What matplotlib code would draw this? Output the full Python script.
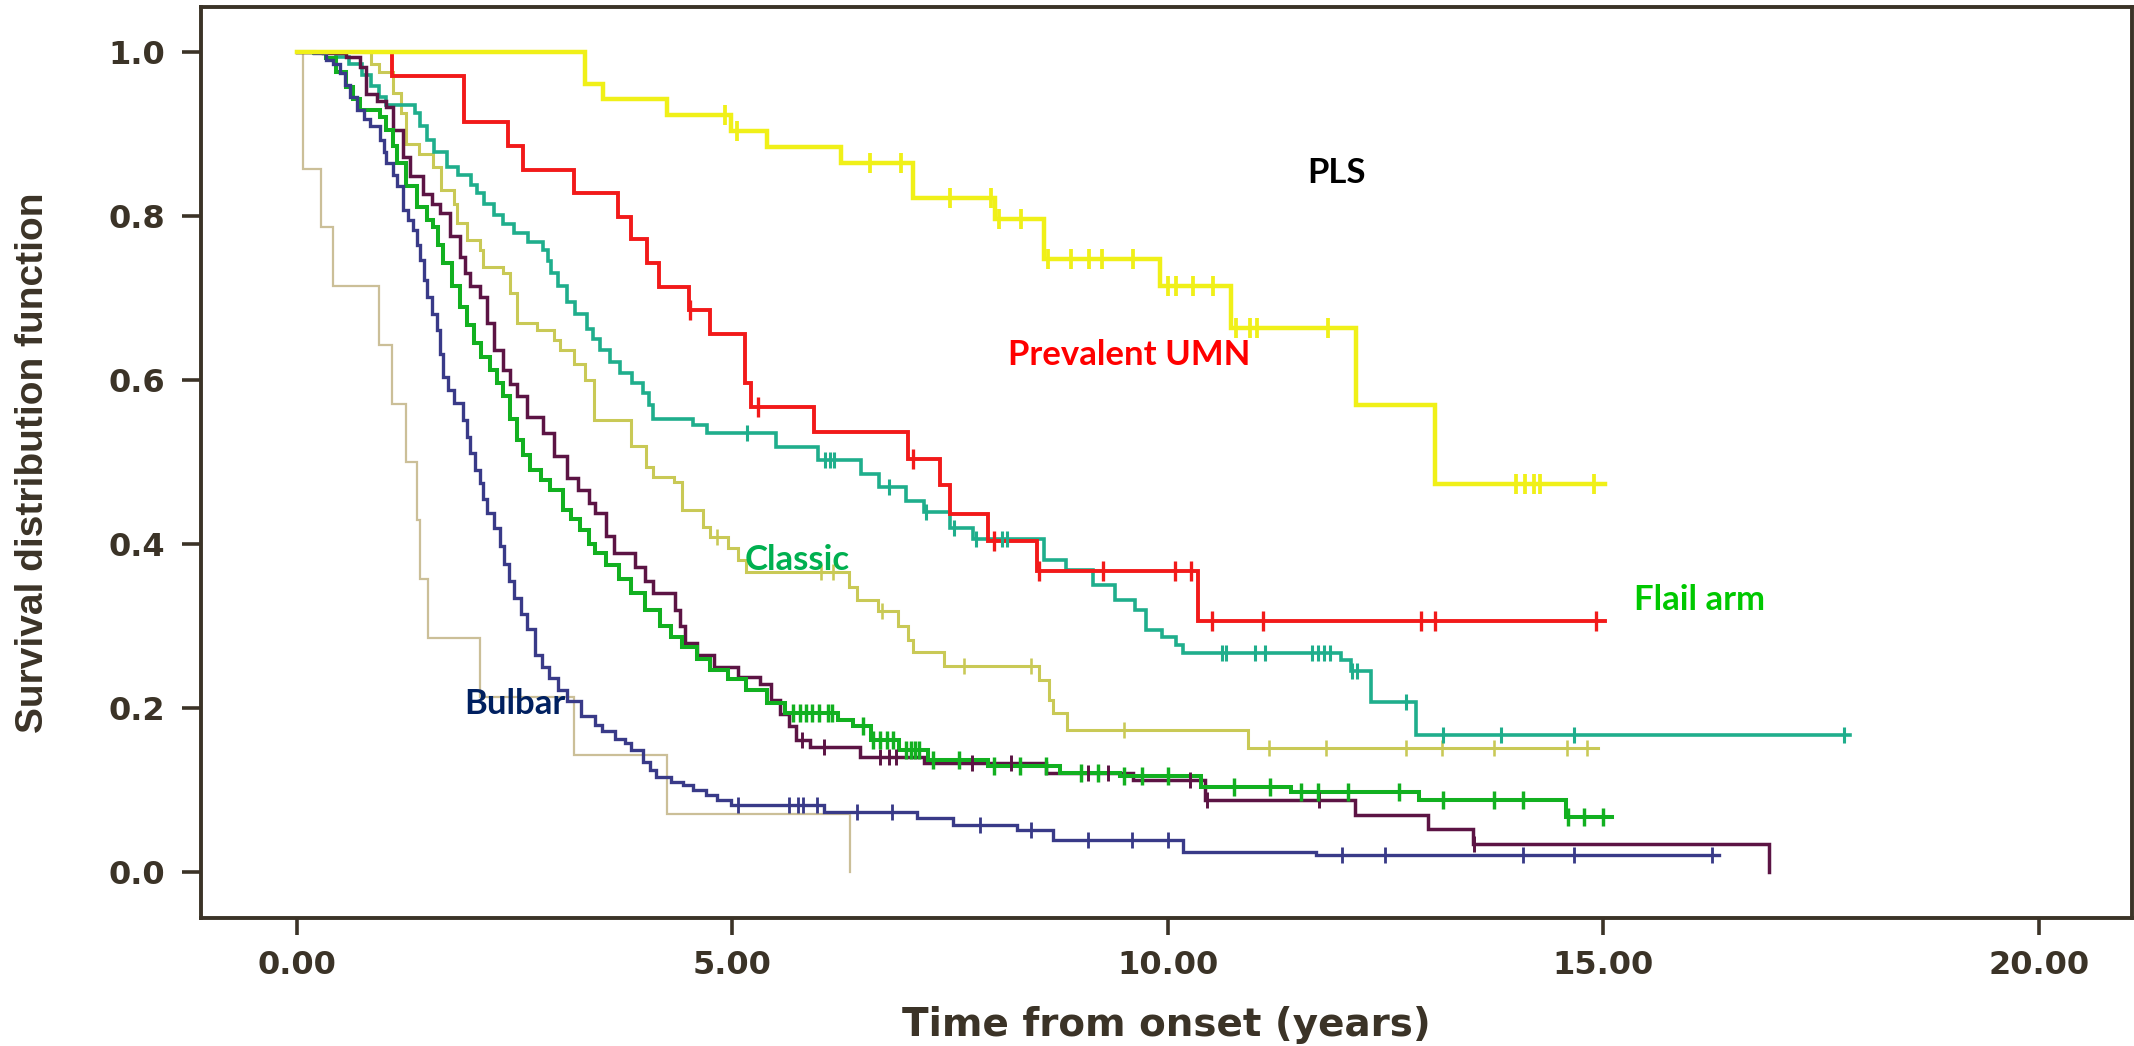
"""
plot.py - Kaplan-Meier survival curves by ALS phenotype (time from onset).
Saves out.png (2134x1046).
"""

import numpy as np
import matplotlib
matplotlib.use("Agg")
import matplotlib.pyplot as plt
from matplotlib.ticker import FixedLocator, FormatStrFormatter

OUT = "out.png"

# ─────────────────────────────────────────────────────────────────────────────
# Data: event times (years), survival after each event,
# last follow-up time and censoring times
# ─────────────────────────────────────────────────────────────────────────────
pls_t = [3.31, 3.52, 4.25, 4.99, 5.40, 6.25, 7.07, 8.02, 8.58, 9.91, 10.73,
         12.16, 13.07]
pls_s = [0.961, 0.943, 0.923, 0.903, 0.884, 0.864, 0.822, 0.796, 0.747, 0.714,
         0.663, 0.569, 0.473]
pls_end = 15.02
pls_cens = [4.92, 5.05, 6.58, 6.94, 7.50, 7.97, 8.06, 8.32, 8.62, 8.89, 9.10,
            9.25, 9.60, 10.00, 10.10, 10.29, 10.52, 10.78, 10.95, 11.02, 11.84,
            14.00, 14.10, 14.20, 14.27, 14.89]

umn_t = [1.09, 1.92, 2.43, 2.60, 3.18, 3.69, 3.84, 4.02, 4.16, 4.50, 4.75,
         5.15, 5.22, 5.94, 7.02, 7.38, 7.50, 7.94, 8.50, 10.35]
umn_s = [0.971, 0.914, 0.885, 0.856, 0.828, 0.799, 0.772, 0.742, 0.713, 0.685,
         0.656, 0.596, 0.567, 0.537, 0.504, 0.472, 0.437, 0.404, 0.367, 0.306]
umn_end = 15.02
umn_cens = [4.52, 5.30, 7.07, 8.00, 8.52, 9.26, 10.08, 10.27, 10.51, 11.09,
            12.91, 13.07, 14.92]

teal_t = [0.45, 0.60, 0.75, 0.85, 0.95, 1.03, 1.36, 1.42, 1.49, 1.58, 1.72,
          1.85, 2.00, 2.07, 2.15, 2.26, 2.37, 2.49, 2.65, 2.83, 2.88, 2.92,
          3.00, 3.10, 3.20, 3.33, 3.40, 3.48, 3.60, 3.71, 3.85, 3.98, 4.04,
          4.09, 4.55, 4.71, 5.50, 5.99, 6.48, 6.68, 6.99, 7.20, 7.50, 7.76,
          8.58, 8.83, 9.14, 9.40, 9.62, 9.75, 9.94, 10.10, 10.18, 11.99, 12.10,
          12.33, 12.85]
teal_s = [0.993, 0.985, 0.972, 0.958, 0.945, 0.935, 0.925, 0.910, 0.893, 0.878,
          0.860, 0.850, 0.838, 0.828, 0.815, 0.801, 0.790, 0.779, 0.768, 0.758,
          0.745, 0.730, 0.715, 0.695, 0.680, 0.662, 0.650, 0.637, 0.622, 0.608,
          0.596, 0.584, 0.570, 0.553, 0.545, 0.535, 0.518, 0.502, 0.485, 0.469,
          0.453, 0.439, 0.420, 0.406, 0.381, 0.369, 0.350, 0.332, 0.320, 0.295,
          0.287, 0.277, 0.267, 0.259, 0.245, 0.208, 0.167]
teal_end = 17.83
teal_cens = [5.17, 6.07, 6.12, 6.17, 6.80, 7.22, 7.55, 7.80, 8.10, 8.15,
             10.62, 10.67, 11.00, 11.12, 11.66, 11.72, 11.80, 11.86, 12.12,
             12.17, 12.74, 13.16, 13.83, 14.67, 17.76]

olive_t = [0.85, 0.95, 1.10, 1.20, 1.26, 1.40, 1.57, 1.66, 1.80, 1.84, 1.95,
           2.10, 2.14, 2.37, 2.45, 2.53, 2.76, 2.95, 3.02, 3.18, 3.31, 3.41,
           3.84, 4.01, 4.09, 4.33, 4.42, 4.66, 4.75, 4.95, 5.07, 5.16, 6.34,
           6.43, 6.67, 6.90, 7.02, 7.08, 7.43, 8.52, 8.64, 8.68, 8.84, 10.92]
olive_s = [0.985, 0.975, 0.950, 0.925, 0.888, 0.875, 0.860, 0.831, 0.815,
           0.791, 0.771, 0.758, 0.738, 0.730, 0.706, 0.669, 0.661, 0.649,
           0.637, 0.620, 0.600, 0.551, 0.519, 0.494, 0.482, 0.476, 0.442,
           0.421, 0.409, 0.395, 0.381, 0.366, 0.348, 0.332, 0.318, 0.300,
           0.283, 0.269, 0.251, 0.234, 0.210, 0.194, 0.173, 0.151]
olive_end = 14.94
olive_cens = [4.83, 6.02, 6.16, 6.72, 7.66, 8.43, 9.50, 11.16, 11.82, 12.74,
              13.15, 13.75, 14.59, 14.81]

green_t = [0.20, 0.34, 0.45, 0.57, 0.65, 0.73, 0.96, 1.03, 1.10, 1.15, 1.26,
           1.38, 1.50, 1.57, 1.62, 1.68, 1.78, 1.87, 1.95, 2.03, 2.12, 2.22,
           2.30, 2.37, 2.45, 2.53, 2.60, 2.68, 2.80, 2.91, 3.06, 3.15, 3.25,
           3.35, 3.43, 3.55, 3.70, 3.84, 4.00, 4.17, 4.30, 4.42, 4.60, 4.75,
           4.95, 5.16, 5.40, 5.61, 6.22, 6.39, 6.59, 6.92, 7.25, 7.94, 8.76,
           9.45, 10.38, 11.41, 12.89, 14.57]
green_s = [0.998, 0.992, 0.975, 0.957, 0.942, 0.929, 0.921, 0.905, 0.885,
           0.864, 0.836, 0.811, 0.795, 0.787, 0.765, 0.742, 0.715, 0.689,
           0.667, 0.645, 0.628, 0.612, 0.596, 0.580, 0.553, 0.527, 0.508,
           0.490, 0.478, 0.466, 0.442, 0.430, 0.417, 0.400, 0.389, 0.375,
           0.357, 0.340, 0.320, 0.300, 0.287, 0.275, 0.260, 0.247, 0.235,
           0.222, 0.206, 0.194, 0.186, 0.178, 0.161, 0.149, 0.137, 0.129,
           0.121, 0.117, 0.104, 0.098, 0.088, 0.068]
green_end = 15.10
green_cens = [5.70, 5.78, 5.85, 5.92, 6.00, 6.10, 6.15, 6.50, 6.62, 6.70,
              6.78, 6.85, 7.00, 7.05, 7.10, 7.15, 7.30, 7.60, 8.00, 8.30,
              8.60, 9.00, 9.20, 9.50, 9.70, 10.00, 10.76, 11.17, 11.53, 11.72,
              12.07, 12.66, 13.16, 13.75, 14.08, 14.60, 14.78, 15.00]

maroon_t = [0.30, 0.57, 0.73, 0.80, 0.92, 1.03, 1.11, 1.22, 1.30, 1.45, 1.55,
            1.65, 1.76, 1.87, 1.93, 1.99, 2.10, 2.18, 2.26, 2.37, 2.45, 2.53,
            2.64, 2.83, 2.95, 3.10, 3.23, 3.35, 3.43, 3.55, 3.64, 3.88, 4.00,
            4.09, 4.34, 4.40, 4.46, 4.60, 4.79, 5.07, 5.32, 5.44, 5.55, 5.65,
            5.73, 5.89, 6.47, 7.20, 8.60, 9.60, 10.43, 12.15, 12.99, 13.50,
            16.90]
maroon_s = [0.998, 0.994, 0.982, 0.949, 0.940, 0.933, 0.905, 0.872, 0.848,
            0.827, 0.815, 0.803, 0.775, 0.750, 0.730, 0.714, 0.701, 0.669,
            0.637, 0.612, 0.595, 0.580, 0.555, 0.535, 0.507, 0.480, 0.466,
            0.450, 0.438, 0.410, 0.389, 0.372, 0.355, 0.340, 0.320, 0.300,
            0.279, 0.265, 0.250, 0.238, 0.230, 0.210, 0.193, 0.178, 0.161,
            0.153, 0.141, 0.133, 0.121, 0.112, 0.088, 0.070, 0.053, 0.035,
            0.000]
maroon_end = 16.90
maroon_cens = [5.80, 6.05, 6.70, 6.80, 6.88, 7.75, 8.20, 9.09, 9.32, 10.26,
               10.45, 11.74, 13.52]

bulbar_t = [0.20, 0.34, 0.42, 0.50, 0.55, 0.61, 0.69, 0.77, 0.84, 0.96, 1.00,
            1.03, 1.10, 1.15, 1.22, 1.28, 1.34, 1.38, 1.42, 1.46, 1.49, 1.55,
            1.61, 1.65, 1.68, 1.74, 1.80, 1.91, 1.95, 1.99, 2.05, 2.10, 2.14,
            2.18, 2.26, 2.33, 2.38, 2.44, 2.49, 2.57, 2.64, 2.74, 2.82, 2.90,
            3.00, 3.10, 3.26, 3.43, 3.51, 3.65, 3.77, 3.84, 3.97, 4.06, 4.13,
            4.30, 4.44, 4.55, 4.70, 4.83, 4.99, 6.05, 7.12, 7.53, 8.27, 8.68,
            10.18, 11.70]
bulbar_s = [0.998, 0.990, 0.985, 0.974, 0.960, 0.945, 0.929, 0.918, 0.909,
            0.892, 0.878, 0.864, 0.850, 0.836, 0.807, 0.795, 0.783, 0.765,
            0.746, 0.722, 0.701, 0.680, 0.661, 0.632, 0.604, 0.588, 0.572,
            0.551, 0.530, 0.511, 0.490, 0.474, 0.455, 0.438, 0.420, 0.398,
            0.376, 0.355, 0.334, 0.315, 0.297, 0.265, 0.250, 0.237, 0.222,
            0.209, 0.191, 0.180, 0.172, 0.163, 0.158, 0.149, 0.135, 0.125,
            0.116, 0.110, 0.107, 0.100, 0.094, 0.088, 0.082, 0.074, 0.066,
            0.058, 0.052, 0.040, 0.025, 0.021]
bulbar_end = 16.33
bulbar_cens = [5.07, 5.65, 5.75, 5.81, 5.97, 6.43, 6.83, 7.84, 8.43, 9.09,
               9.59, 10.00, 12.00, 12.50, 14.08, 14.67, 16.25]

tan_t = [0.07, 0.28, 0.42, 0.94, 1.09, 1.26, 1.38, 1.42, 1.51, 2.10, 3.18,
         4.25, 6.35]
tan_s = [0.857, 0.786, 0.714, 0.643, 0.571, 0.500, 0.429, 0.357, 0.286, 0.214,
         0.143, 0.071, 0.000]
tan_end = 6.35
tan_cens = []

# labels written on the plot: text, x (years), baseline y, colour
label_text = ["PLS", "Prevalent UMN", "Classic", "Flail arm", "Bulbar"]
label_x = [11.94, 9.56, 5.75, 16.11, 2.50]
label_y = [0.840, 0.618, 0.368, 0.320, 0.193]
label_color = ["#000000", "#ff0000", "#00b050", "#00c800", "#002060"]

x_ticks = [0, 5, 10, 15, 20]
y_ticks = [0.0, 0.2, 0.4, 0.6, 0.8, 1.0]

AXIS_COLOR = "#3b3327"


def km_step(ax, t, s, end, cens, color, lw, msize):
    """Draw one KM curve as a post-step line with censoring ticks."""
    times = np.r_[0.0, t, end]
    surv = np.r_[1.0, s, s[-1]]
    ax.step(times, surv, where="post", color=color, lw=lw,
            solid_joinstyle="miter", zorder=3)
    if len(cens):
        c = np.asarray(cens)
        idx = np.searchsorted(times, c, side="right") - 1
        ax.plot(c, surv[idx], ls="none", marker="|", ms=msize,
                mew=lw * 0.85, color=color, zorder=4)


def main():
    fig = plt.figure(figsize=(21.34, 10.46), dpi=100)
    ax = fig.add_axes([0.0942, 0.1224, 0.9048, 0.8709])

    # back to front
    km_step(ax, tan_t, tan_s, tan_end, tan_cens, "#cbbf98", 1.6, 0)
    km_step(ax, olive_t, olive_s, olive_end, olive_cens, "#c9c956", 2.2, 11)
    km_step(ax, teal_t, teal_s, teal_end, teal_cens, "#1fae8c", 2.6, 12)
    km_step(ax, maroon_t, maroon_s, maroon_end, maroon_cens, "#5c1444", 2.5, 12)
    km_step(ax, green_t, green_s, green_end, green_cens, "#12b020", 2.9, 13)
    km_step(ax, bulbar_t, bulbar_s, bulbar_end, bulbar_cens, "#393a88", 2.4, 12)
    km_step(ax, umn_t, umn_s, umn_end, umn_cens, "#f21a1a", 2.8, 14)
    km_step(ax, pls_t, pls_s, pls_end, pls_cens, "#f0f018", 3.2, 14)

    ax.set_xlim(-1.099, 21.07)
    ax.set_ylim(-0.0556, 1.0545)

    ax.xaxis.set_major_locator(FixedLocator(x_ticks))
    ax.yaxis.set_major_locator(FixedLocator(y_ticks))
    ax.xaxis.set_major_formatter(FormatStrFormatter("%.2f"))
    ax.yaxis.set_major_formatter(FormatStrFormatter("%.1f"))

    for sp in ax.spines.values():
        sp.set_color(AXIS_COLOR)
        sp.set_linewidth(2.8)
    ax.tick_params(axis="both", colors=AXIS_COLOR, width=2.6,
                   labelsize=23, labelcolor=AXIS_COLOR)
    ax.tick_params(axis="x", length=12, pad=11)
    ax.tick_params(axis="y", length=14, pad=12)
    for lab in ax.get_xticklabels() + ax.get_yticklabels():
        lab.set_fontweight("bold")
        lab.set_family("DejaVu Sans")

    ax.set_xlabel("Time from onset (years)", fontsize=28, fontweight="bold",
                  family="DejaVu Sans", color=AXIS_COLOR, va="center")
    ax.xaxis.set_label_coords(0.5, -0.117)
    ax.set_ylabel("Survival distribution function", fontsize=28,
                  fontweight="bold", family="Liberation Sans",
                  color=AXIS_COLOR, va="center")
    ax.yaxis.set_label_coords(-0.087, 0.5)

    for txt, x, y, col in zip(label_text, label_x, label_y, label_color):
        ax.text(x, y, txt, color=col, fontsize=25, fontweight="bold",
                family=["Lato", "DejaVu Sans"], ha="center", va="baseline",
                zorder=5)

    fig.savefig(OUT, dpi=100, facecolor="white")
    plt.close(fig)


if __name__ == "__main__":
    main()
